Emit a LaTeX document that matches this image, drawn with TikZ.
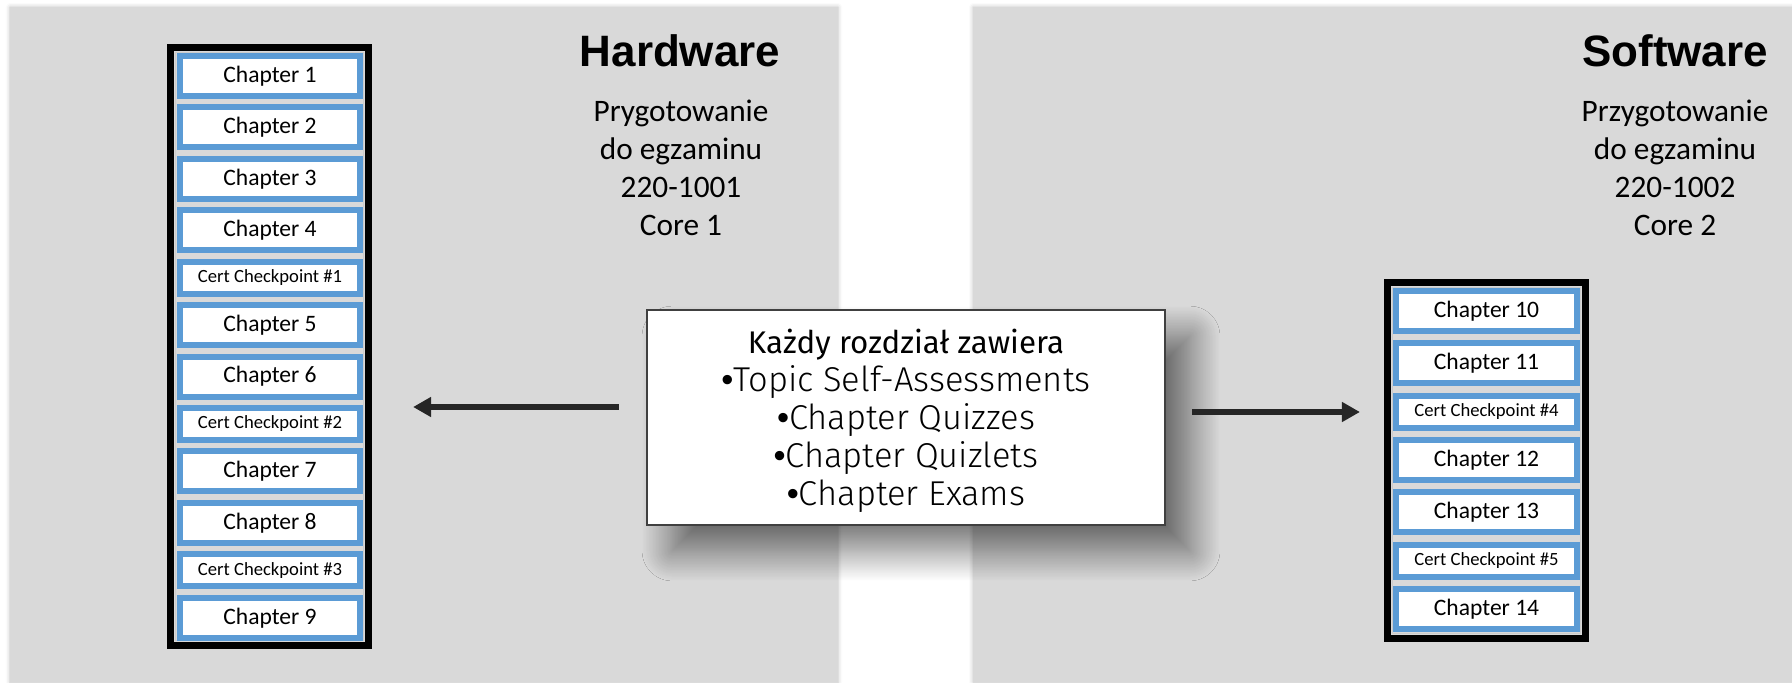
\documentclass[tikz,border=0pt]{standalone}
\usepackage{fontspec}
\setmainfont{Carlito}
\newfontfamily\headfont{Liberation Sans}
\newfontfamily\boxfont{Fira Sans}
\newfontfamily\boxlightfont{Fira Sans Light}
\usepackage{tikz}
\usetikzlibrary{positioning, arrows.meta, shadows.blur}

\definecolor{panelgray}{HTML}{D9D9D9}
\definecolor{chapblue}{HTML}{5B9BD5}
\definecolor{arrowgray}{HTML}{262626}
\definecolor{boxedge}{HTML}{404040}

\newcommand{\dotitem}[1]{{\headfont •}#1}

\begin{document}
\begin{tikzpicture}[x=0.01cm, y=-0.01cm,
        chapbox/.style = {draw=chapblue, fill=white, line width=0.06cm, outer sep=0.03cm, inner sep=0pt,
                minimum width=1.8cm, minimum height=0.4cm, font=\fontsize{6.7}{8}\selectfont},
        certbox/.style = {chapbox, minimum height=0.32cm, font=\fontsize{5.3}{6.4}\selectfont},
        stackframe/.style = {draw=black, fill=panelgray, line width=0.07cm, inner sep=0pt, minimum width=1.98cm},
        stackrim/.style = {draw=black!20, line width=0.015cm, inner sep=0pt, minimum width=1.88cm},
        sidetitle/.style = {font=\headfont\bfseries\fontsize{12.5}{15}\selectfont},
        sidenote/.style = {align=center, font=\fontsize{8.9}{10.8}\selectfont},
        infobox/.style = {draw=boxedge, fill=white, line width=0.025cm, inner sep=0pt,
                minimum width=5.175cm, minimum height=2.145cm, align=center,
                font=\boxlightfont\fontsize{9.8}{10.8}\selectfont,
                blur shadow={shadow xshift=0.25cm, shadow yshift=-0.26cm, shadow blur radius=0.3cm,
                        shadow blur steps=30, shadow opacity=55}},
        arr/.style = {draw=arrowgray, line width=0.06cm, -{Triangle[length=0.18cm, width=0.19cm]}},
        node distance = 0.054cm]
        \useasboundingbox (0,0) rectangle (1792,682);

        % panels
        \fill[panelgray, blur shadow={shadow xshift=0pt, shadow yshift=0pt, shadow blur radius=0.04cm, shadow opacity=25}]
                (10,7) rectangle (838,682);
        \fill[panelgray, blur shadow={shadow xshift=0pt, shadow yshift=0pt, shadow blur radius=0.04cm, shadow opacity=25}]
                (973,7) rectangle (1792,682);

        % Hardware
        \node(hwframe) [stackframe, minimum height=5.98cm] at (269.5,346.5) {};
        \node(hwrim) [stackrim, minimum height=5.88cm] at (hwframe) {};
        \node(ch1) [chapbox] at (270,76) {Chapter 1};
        \node(ch2) [chapbox, below = of ch1] {Chapter 2};
        \node(ch3) [chapbox, below = of ch2] {Chapter 3};
        \node(ch4) [chapbox, below = of ch3] {Chapter 4};
        \node(cp1) [certbox, below = of ch4] {Cert Checkpoint \#1};
        \node(ch5) [chapbox, below = of cp1] {Chapter 5};
        \node(ch6) [chapbox, below = of ch5] {Chapter 6};
        \node(cp2) [certbox, below = of ch6] {Cert Checkpoint \#2};
        \node(ch7) [chapbox, below = of cp2] {Chapter 7};
        \node(ch8) [chapbox, below = of ch7] {Chapter 8};
        \node(cp3) [certbox, below = of ch8] {Cert Checkpoint \#3};
        \node(ch9) [chapbox, below = of cp3] {Chapter 9};

        \node(hwtitle) [sidetitle] at (680,51) {Hardware};
        \node(hwnote) [sidenote] at (681,168) {Prygotowanie\\do egzaminu\\220-1001\\Core 1};

        % Software
        \node(swframe) [stackframe, minimum height=3.56cm] at (1486.5,460.5) {};
        \node(swrim) [stackrim, minimum height=3.46cm] at (swframe) {};
        \node(ch10) [chapbox] at (1486.5,311) {Chapter 10};
        \node(ch11) [chapbox, below = 0.063cm of ch10] {Chapter 11};
        \node(cp4) [certbox, below = 0.063cm of ch11] {Cert Checkpoint \#4};
        \node(ch12) [chapbox, below = 0.063cm of cp4] {Chapter 12};
        \node(ch13) [chapbox, below = 0.063cm of ch12] {Chapter 13};
        \node(cp5) [certbox, below = 0.063cm of ch13] {Cert Checkpoint \#5};
        \node(ch14) [chapbox, below = 0.063cm of cp5] {Chapter 14};

        \node(swtitle) [sidetitle] at (1675,51) {Software};
        \node(swnote) [sidenote] at (1675,168) {Przygotowanie\\do egzaminu\\220-1002\\Core 2};

        % what every chapter has
        \node(info) [infobox] at (906,417.5) {\rule{0pt}{8.9pt}{\boxfont\fontsize{8.9}{10.8}\selectfont Każdy rozdział zawiera}\\
                \dotitem{Topic Self-Assessments}\\\dotitem{Chapter Quizzes}\\\dotitem{Chapter Quizlets}\\\dotitem{Chapter Exams}};

        \draw[arr] ([shift={(-0.27cm,0.105cm)}]info.west) coordinate (hwstart) -- ([xshift=0.41cm]hwframe.east |- hwstart);
        \draw[arr] ([shift={(0.26cm,0.055cm)}]info.east) coordinate (swstart) -- ([xshift=-0.24cm]swframe.west |- swstart);
\end{tikzpicture}
\end{document}
